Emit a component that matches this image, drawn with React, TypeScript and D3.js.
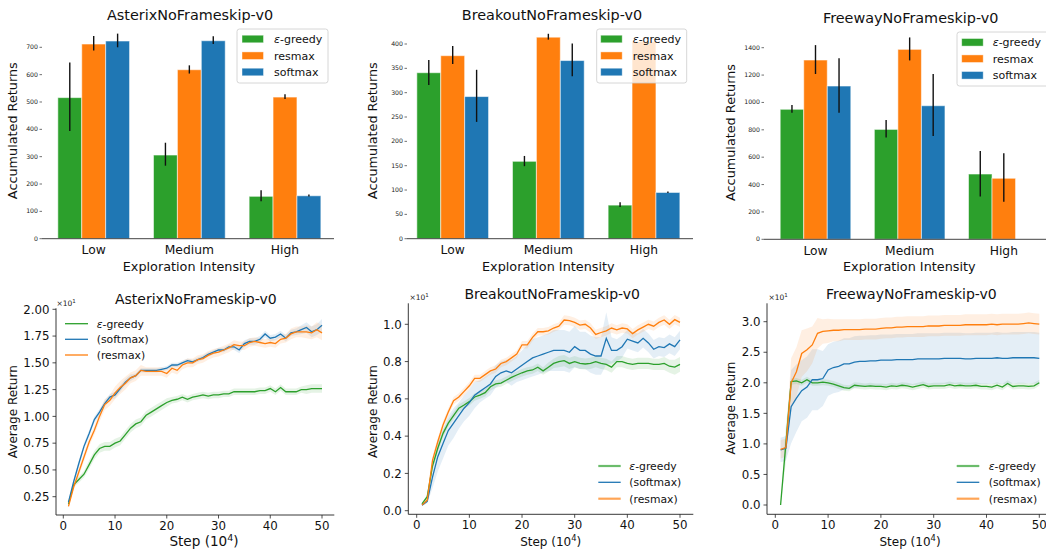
import React from 'react';
import * as d3 from 'd3';

const GREEN = '#2ca02c';
const ORANGE = '#ff7f0e';
const BLUE = '#1f77b4';
const FONT = "'DejaVu Sans', Verdana, sans-serif";

// ---------------- bar chart data ----------------
const categories = ['Low', 'Medium', 'High'];
const barNames = ['ε-greedy', 'resmax', 'softmax'];

const asterixBarTicks = [0, 100, 200, 300, 400, 500, 600, 700];
const asterixEps = [516, 306, 155];
const asterixEpsLo = [394, 267, 137];
const asterixEpsHi = [644, 351, 177];
const asterixRes = [712, 618, 518];
const asterixResLo = [688, 604, 511];
const asterixResHi = [741, 634, 528];
const asterixSoft = [723, 724, 157];
const asterixSoftLo = [700, 712, 154];
const asterixSoftHi = [750, 740, 162];

const breakoutBarTicks = [0, 50, 100, 150, 200, 250, 300, 350, 400];
const breakoutEps = [341, 159, 69];
const breakoutEpsLo = [316, 149, 65];
const breakoutEpsHi = [367, 170, 75];
const breakoutRes = [376, 414, 405];
const breakoutResLo = [359, 409, 405];
const breakoutResHi = [396, 421, 405];
const breakoutSoft = [292, 366, 95];
const breakoutSoftLo = [240, 334, 94];
const breakoutSoftHi = [347, 401, 97];

const freewayBarTicks = [0, 200, 400, 600, 800, 1000, 1200, 1400];
const freewayEps = [950, 803, 477];
const freewayEpsLo = [925, 743, 312];
const freewayEpsHi = [981, 872, 645];
const freewayRes = [1310, 1388, 446];
const freewayResLo = [1208, 1307, 275];
const freewayResHi = [1419, 1475, 628];
const freewaySoft = [1120, 976, 0];
const freewaySoftLo = [925, 755, 0];
const freewaySoftHi = [1322, 1208, 0];

// ---------------- learning curve data ----------------
const steps = Array.from({ length: 50 }, (_, i) => i + 1);
const stepTicks = [0, 10, 20, 30, 40, 50];
const lineNames = ['ε-greedy', '(softmax)', '(resmax)'];

const asterixLineTicks = [0.25, 0.5, 0.75, 1.0, 1.25, 1.5, 1.75, 2.0];
const asterixEpsMean = [0.18,0.36,0.41,0.46,0.55,0.64,0.70,0.72,0.72,0.75,0.77,0.83,0.89,0.93,0.95,1.01,1.04,1.07,1.10,1.13,1.15,1.16,1.18,1.16,1.18,1.19,1.20,1.19,1.20,1.20,1.21,1.21,1.23,1.23,1.23,1.23,1.23,1.24,1.24,1.26,1.23,1.27,1.23,1.23,1.23,1.25,1.25,1.26,1.26,1.26];
const asterixEpsBand = [0.01,0.02,0.03,0.03,0.04,0.04,0.04,0.04,0.04,0.04,0.04,0.04,0.04,0.04,0.04,0.04,0.04,0.04,0.04,0.04,0.03,0.03,0.03,0.03,0.03,0.03,0.03,0.03,0.03,0.03,0.03,0.03,0.03,0.03,0.03,0.03,0.03,0.03,0.03,0.03,0.03,0.03,0.03,0.03,0.03,0.03,0.04,0.04,0.04,0.04];
const asterixSoftMean = [0.20,0.39,0.56,0.72,0.84,0.97,1.04,1.12,1.18,1.20,1.26,1.32,1.36,1.38,1.43,1.43,1.43,1.43,1.44,1.45,1.48,1.48,1.50,1.52,1.51,1.53,1.55,1.58,1.60,1.62,1.62,1.65,1.65,1.62,1.68,1.70,1.70,1.72,1.77,1.73,1.74,1.77,1.73,1.78,1.79,1.81,1.83,1.79,1.81,1.85];
const asterixSoftBand = [0.01,0.02,0.03,0.03,0.03,0.03,0.03,0.03,0.03,0.03,0.03,0.03,0.03,0.02,0.02,0.02,0.02,0.02,0.02,0.02,0.02,0.02,0.02,0.02,0.02,0.02,0.02,0.02,0.02,0.02,0.02,0.02,0.03,0.03,0.03,0.03,0.03,0.03,0.03,0.03,0.03,0.03,0.03,0.03,0.03,0.04,0.05,0.05,0.05,0.06];
const asterixResMean = [0.16,0.34,0.48,0.62,0.76,0.87,1.00,1.11,1.15,1.22,1.27,1.31,1.36,1.38,1.43,1.42,1.42,1.42,1.42,1.40,1.45,1.43,1.48,1.50,1.50,1.53,1.54,1.57,1.59,1.60,1.62,1.64,1.67,1.66,1.66,1.69,1.70,1.69,1.68,1.69,1.68,1.72,1.73,1.77,1.79,1.79,1.79,1.78,1.81,1.78];
const asterixResBand = [0.01,0.03,0.04,0.04,0.04,0.04,0.05,0.05,0.05,0.06,0.06,0.06,0.05,0.05,0.05,0.04,0.04,0.04,0.04,0.04,0.04,0.04,0.04,0.04,0.04,0.04,0.04,0.04,0.04,0.04,0.04,0.04,0.04,0.04,0.04,0.04,0.04,0.04,0.04,0.04,0.04,0.04,0.04,0.05,0.05,0.05,0.06,0.06,0.07,0.07];

const breakoutLineTicks = [0.0, 0.2, 0.4, 0.6, 0.8, 1.0];
const breakoutEpsMean = [0.036,0.075,0.24,0.335,0.415,0.47,0.51,0.55,0.567,0.585,0.61,0.62,0.633,0.665,0.68,0.685,0.70,0.715,0.728,0.74,0.75,0.755,0.77,0.75,0.77,0.79,0.80,0.805,0.79,0.80,0.79,0.787,0.79,0.80,0.79,0.785,0.77,0.80,0.80,0.79,0.785,0.79,0.79,0.79,0.785,0.785,0.79,0.775,0.77,0.785];
const breakoutEpsBand = [0.005,0.01,0.02,0.02,0.02,0.02,0.02,0.02,0.02,0.02,0.02,0.02,0.02,0.02,0.02,0.02,0.02,0.02,0.02,0.02,0.02,0.02,0.02,0.02,0.025,0.025,0.03,0.03,0.03,0.03,0.03,0.03,0.03,0.03,0.03,0.03,0.03,0.03,0.03,0.03,0.03,0.03,0.03,0.03,0.03,0.03,0.035,0.035,0.04,0.04];
const breakoutSoftMean = [0.03,0.05,0.18,0.29,0.36,0.43,0.47,0.51,0.55,0.58,0.62,0.64,0.66,0.68,0.72,0.74,0.75,0.74,0.76,0.78,0.80,0.82,0.83,0.84,0.85,0.86,0.86,0.86,0.85,0.88,0.86,0.86,0.84,0.83,0.83,0.925,0.86,0.86,0.88,0.92,0.91,0.90,0.925,0.90,0.866,0.88,0.875,0.895,0.88,0.916];
const breakoutSoftBand = [0.005,0.01,0.06,0.08,0.08,0.08,0.08,0.07,0.07,0.07,0.07,0.06,0.06,0.06,0.06,0.06,0.06,0.07,0.07,0.08,0.09,0.10,0.10,0.10,0.10,0.11,0.11,0.11,0.11,0.11,0.10,0.10,0.10,0.10,0.10,0.14,0.07,0.06,0.06,0.05,0.05,0.05,0.05,0.05,0.05,0.05,0.05,0.05,0.05,0.05];
const breakoutResMean = [0.03,0.057,0.27,0.37,0.46,0.53,0.59,0.61,0.64,0.67,0.71,0.71,0.73,0.75,0.76,0.79,0.80,0.82,0.84,0.89,0.89,0.93,0.96,0.96,0.965,0.98,0.99,1.023,1.02,1.01,0.996,1.0,0.98,0.946,0.956,0.965,0.98,0.97,0.98,0.975,0.95,0.97,0.985,1.0,0.99,1.01,1.023,1.0,1.025,1.01];
const breakoutResBand = [0.005,0.01,0.02,0.02,0.02,0.02,0.02,0.02,0.02,0.02,0.02,0.02,0.02,0.02,0.02,0.02,0.02,0.02,0.02,0.02,0.02,0.02,0.02,0.02,0.02,0.02,0.02,0.025,0.025,0.025,0.025,0.025,0.025,0.025,0.025,0.025,0.025,0.025,0.025,0.025,0.025,0.025,0.025,0.025,0.025,0.025,0.025,0.025,0.025,0.025];

const freewayLineTicks = [0.0, 0.5, 1.0, 1.5, 2.0, 2.5, 3.0];
const freewayEpsMean = [0.0,1.0,2.02,2.03,2.0,2.05,2.0,2.0,2.01,2.0,1.98,1.95,1.92,1.91,1.96,1.95,1.94,1.95,1.94,1.94,1.93,1.95,1.94,1.96,1.95,1.93,1.95,1.97,1.94,1.95,1.95,1.95,1.97,1.95,1.96,1.95,1.95,1.96,1.94,1.94,1.93,1.96,1.93,1.99,1.94,1.95,1.95,1.94,1.95,2.0];
const freewayEpsBand = [0.0,0.3,0.05,0.05,0.05,0.05,0.05,0.05,0.05,0.05,0.05,0.05,0.05,0.05,0.05,0.05,0.05,0.05,0.05,0.05,0.05,0.05,0.05,0.05,0.05,0.05,0.05,0.05,0.05,0.05,0.05,0.05,0.05,0.05,0.05,0.05,0.05,0.05,0.05,0.05,0.05,0.05,0.05,0.05,0.05,0.05,0.05,0.05,0.05,0.05];
const freewaySoftMean = [0.90,0.93,1.61,1.75,1.87,1.93,2.05,2.05,2.07,2.21,2.25,2.27,2.31,2.31,2.34,2.35,2.35,2.36,2.36,2.37,2.37,2.37,2.38,2.38,2.38,2.38,2.39,2.39,2.39,2.39,2.39,2.40,2.40,2.40,2.40,2.39,2.39,2.40,2.40,2.40,2.40,2.41,2.40,2.40,2.41,2.41,2.41,2.41,2.41,2.40];
const freewaySoftBand = [0.2,0.2,0.6,0.55,0.5,0.5,0.5,0.5,0.45,0.42,0.42,0.42,0.42,0.42,0.42,0.42,0.42,0.42,0.42,0.42,0.42,0.42,0.42,0.42,0.42,0.42,0.42,0.42,0.42,0.42,0.42,0.42,0.42,0.42,0.42,0.42,0.42,0.42,0.42,0.42,0.42,0.42,0.42,0.42,0.42,0.42,0.42,0.42,0.42,0.42];
const freewayResMean = [0.91,0.94,2.0,2.18,2.48,2.54,2.62,2.81,2.84,2.85,2.86,2.86,2.87,2.87,2.87,2.87,2.88,2.88,2.88,2.89,2.90,2.90,2.91,2.91,2.92,2.92,2.92,2.92,2.93,2.93,2.93,2.94,2.94,2.94,2.94,2.95,2.95,2.95,2.95,2.95,2.96,2.95,2.96,2.96,2.96,2.96,2.97,2.98,2.97,2.96];
const freewayResBand = [0.15,0.15,0.4,0.4,0.38,0.35,0.3,0.25,0.2,0.2,0.18,0.18,0.17,0.17,0.17,0.17,0.17,0.17,0.17,0.17,0.17,0.17,0.17,0.17,0.17,0.17,0.17,0.17,0.17,0.17,0.17,0.17,0.17,0.17,0.17,0.17,0.17,0.17,0.17,0.17,0.17,0.17,0.17,0.17,0.17,0.17,0.17,0.17,0.17,0.17];

// ---------------- panel configs (layout) ----------------
const barPanels = [
  {
    title: 'AsterixNoFrameskip-v0', titleX: 190, titleY: 19.5,
    baseY: 238.7, refV: 700, refY: 47.3, spineL: 42, spineR: 334, c0: 93.7, c2: 285,
    ticks: asterixBarTicks,
    series: [
      { v: asterixEps, lo: asterixEpsLo, hi: asterixEpsHi, color: GREEN },
      { v: asterixRes, lo: asterixResLo, hi: asterixResHi, color: ORANGE },
      { v: asterixSoft, lo: asterixSoftLo, hi: asterixSoftHi, color: BLUE },
    ],
    legend: { x: 237, y: 29, w: 91, h: 54, rows: [39, 55.7, 72], patchX: 242, textX: 274 },
    ylabelX: 17, ylabelY: 130.7, xlabelX: 189, xlabelY: 270.7, catY: 254,
  },
  {
    title: 'BreakoutNoFrameskip-v0', titleX: 552, titleY: 19.5,
    baseY: 238.7, refV: 400, refY: 44, spineL: 407, spineR: 693, c0: 452.7, c2: 644,
    ticks: breakoutBarTicks,
    series: [
      { v: breakoutEps, lo: breakoutEpsLo, hi: breakoutEpsHi, color: GREEN },
      { v: breakoutRes, lo: breakoutResLo, hi: breakoutResHi, color: ORANGE },
      { v: breakoutSoft, lo: breakoutSoftLo, hi: breakoutSoftHi, color: BLUE },
    ],
    legend: { x: 596.7, y: 29, w: 90, h: 54, rows: [39, 55.7, 72], patchX: 600.7, textX: 632.7 },
    ylabelX: 377, ylabelY: 130.7, xlabelX: 548.3, xlabelY: 270.7, catY: 254,
  },
  {
    title: 'FreewayNoFrameskip-v0', titleX: 910.7, titleY: 22.7,
    baseY: 239.3, refV: 1400, refY: 47.7, spineL: 764, spineR: 1060, c0: 815.5, c2: 1003.8,
    ticks: freewayBarTicks,
    series: [
      { v: freewayEps, lo: freewayEpsLo, hi: freewayEpsHi, color: GREEN },
      { v: freewayRes, lo: freewayResLo, hi: freewayResHi, color: ORANGE },
      { v: freewaySoft, lo: freewaySoftLo, hi: freewaySoftHi, color: BLUE },
    ],
    legend: { x: 957, y: 32, w: 100, h: 54, rows: [42.3, 58.7, 75.3], patchX: 961.7, textX: 992.7 },
    ylabelX: 735, ylabelY: 132.5, xlabelX: 909.3, xlabelY: 270.7, catY: 255,
  },
];

const linePanels = [
  {
    title: 'AsterixNoFrameskip-v0', titleX: 195.8, titleY: 304.3,
    xr: [63.3, 322], yd: [0.25, 2.0], yr: [496.7, 309.3],
    spineL: 56, spineR: 334.3, spineT: 308.3, spineB: 515,
    ticks: asterixLineTicks, fmt: d3.format('.2f'),
    series: [
      { m: asterixEpsMean, b: asterixEpsBand, color: GREEN },
      { m: asterixSoftMean, b: asterixSoftBand, color: BLUE },
      { m: asterixResMean, b: asterixResBand, color: ORANGE },
    ],
    legend: { x0: 65, x1: 88, textX: 96.7, rows: [323.7, 339.3, 355], soft: false },
    offX: 56.5, offY: 306,
    ylabelX: 17, ylabelY: 411.7, xlabelX: 204, xlabelY: 546, xlabelSize: 13.6,
  },
  {
    title: 'BreakoutNoFrameskip-v0', titleX: 552.2, titleY: 299,
    xr: [416.7, 680], yd: [0, 1], yr: [510.7, 324.3],
    spineL: 408.3, spineR: 693.3, spineT: 303.3, spineB: 514.3,
    ticks: breakoutLineTicks, fmt: d3.format('.1f'),
    series: [
      { m: breakoutEpsMean, b: breakoutEpsBand, color: GREEN },
      { m: breakoutSoftMean, b: breakoutSoftBand, color: BLUE },
      { m: breakoutResMean, b: breakoutResBand, color: ORANGE },
    ],
    legend: { x0: 598.3, x1: 620.7, textX: 629.3, rows: [466, 482.3, 498.7], soft: true },
    offX: 409.5, offY: 300,
    ylabelX: 377, ylabelY: 411.5, xlabelX: 550.7, xlabelY: 545.7, xlabelSize: 12,
  },
  {
    title: 'FreewayNoFrameskip-v0', titleX: 911.3, titleY: 299,
    xr: [775.3, 1039.3], yd: [0, 3], yr: [505, 321.7],
    spineL: 767, spineR: 1060, spineT: 303.3, spineB: 514.3,
    ticks: freewayLineTicks, fmt: d3.format('.1f'),
    series: [
      { m: freewayEpsMean, b: freewayEpsBand, color: GREEN },
      { m: freewaySoftMean, b: freewaySoftBand, color: BLUE },
      { m: freewayResMean, b: freewayResBand, color: ORANGE },
    ],
    legend: { x0: 956.7, x1: 979.3, textX: 988.7, rows: [466, 482.3, 498.7], soft: true },
    offX: 768.5, offY: 300,
    ylabelX: 735, ylabelY: 408, xlabelX: 910, xlabelY: 545.7, xlabelSize: 12,
  },
];

function EpsLabel({ name }: { name: string }) {
  if (name.startsWith('ε')) {
    return (
      <>
        <tspan fontStyle="italic">ε</tspan>
        {name.slice(1)}
      </>
    );
  }
  return <>{name}</>;
}

function BarPanel({ p }: { p: any }) {
  const x = d3.scaleLinear().domain([0, 2]).range([p.c0, p.c2]);
  const y = d3.scaleLinear().domain([0, p.refV]).range([p.baseY, p.refY]);
  const unit = (p.c2 - p.c0) / 2;
  const bw = 0.25 * unit;
  const offs = [-0.25, 0, 0.25];
  return (
    <g fontFamily={FONT}>
      <text x={p.titleX} y={p.titleY} fontSize={14.4} textAnchor="middle" fill="#111">{p.title}</text>
      {p.series.map((s: any, si: number) =>
        s.v.map((v: number, ci: number) =>
          v > 0 ? (
            <rect key={`b${si}-${ci}`} x={x(ci + offs[si]) - bw / 2} y={y(v)} width={bw} height={y(0) - y(v)}
              fill={s.color} stroke="#fff" strokeOpacity={0.55} strokeWidth={1} />
          ) : null
        )
      )}
      {p.series.map((s: any, si: number) =>
        s.v.map((v: number, ci: number) =>
          s.hi[ci] > s.lo[ci] ? (
            <line key={`e${si}-${ci}`} x1={x(ci + offs[si])} x2={x(ci + offs[si])} y1={y(s.lo[ci])} y2={y(s.hi[ci])}
              stroke="#111" strokeWidth={1.4} />
          ) : null
        )
      )}
      <line x1={p.spineL} x2={p.spineR} y1={p.baseY} y2={p.baseY} stroke="#444" strokeWidth={1} />
      {p.ticks.map((t: number) => (
        <g key={t}>
          <line x1={p.spineL - 2.5} x2={p.spineL} y1={y(t)} y2={y(t)} stroke="#333" strokeWidth={0.7} />
          <text x={p.spineL - 4} y={y(t)} dy="0.33em" fontSize={6.2} textAnchor="end" fill="#222">{t}</text>
        </g>
      ))}
      {categories.map((c, ci) => (
        <text key={c} x={x(ci)} y={p.catY} fontSize={12.3} textAnchor="middle" fill="#111">{c}</text>
      ))}
      <text x={p.xlabelX} y={p.xlabelY} fontSize={12.8} textAnchor="middle" fill="#111">Exploration Intensity</text>
      <text transform={`translate(${p.ylabelX},${p.ylabelY}) rotate(-90)`} fontSize={12.8} textAnchor="middle" fill="#111">Accumulated Returns</text>
      <rect x={p.legend.x} y={p.legend.y} width={p.legend.w} height={p.legend.h} rx={2.5}
        fill="#fff" fillOpacity={0.8} stroke="#ccc" strokeWidth={0.8} />
      {barNames.map((n, i) => (
        <g key={n}>
          <rect x={p.legend.patchX} y={p.legend.rows[i] - 3.8} width={21.5} height={7.6}
            fill={p.series[i].color} stroke="#fff" strokeOpacity={0.55} strokeWidth={0.8} />
          <text x={p.legend.textX} y={p.legend.rows[i]} dy="0.36em" fontSize={11} fill="#111">
            <EpsLabel name={n} />
          </text>
        </g>
      ))}
    </g>
  );
}

function LinePanel({ p }: { p: any }) {
  const x = d3.scaleLinear().domain([0, 50]).range(p.xr);
  const y = d3.scaleLinear().domain(p.yd).range(p.yr);
  const line = d3.line<number>().x((_, i) => x(steps[i])).y((d) => y(d));
  const area = (m: number[], b: number[]) =>
    d3.area<number>().x((_, i) => x(steps[i])).y0((d, i) => y(d - b[i])).y1((d, i) => y(d + b[i]))(m) || '';
  const xs = p.xlabelSize;
  return (
    <g fontFamily={FONT}>
      <text x={p.titleX} y={p.titleY} fontSize={14} textAnchor="middle" fill="#111">{p.title}</text>
      {p.series.map((s: any, i: number) => (
        <path key={`a${i}`} d={area(s.m, s.b)} fill={s.color} fillOpacity={0.12} stroke="none" />
      ))}
      {p.series.map((s: any, i: number) => (
        <path key={`l${i}`} d={line(s.m) || ''} fill="none" stroke={s.color} strokeWidth={1.3} />
      ))}
      <line x1={p.spineL} x2={p.spineL} y1={p.spineT} y2={p.spineB} stroke="#222" strokeWidth={0.9} />
      <line x1={p.spineL} x2={p.spineR} y1={p.spineB} y2={p.spineB} stroke="#222" strokeWidth={0.9} />
      {p.ticks.map((t: number) => (
        <g key={t}>
          <line x1={p.spineL - 3.5} x2={p.spineL} y1={y(t)} y2={y(t)} stroke="#222" strokeWidth={0.8} />
          <text x={p.spineL - 6.5} y={y(t)} dy="0.36em" fontSize={11.8} textAnchor="end" fill="#111">{p.fmt(t)}</text>
        </g>
      ))}
      {stepTicks.map((t) => (
        <g key={t}>
          <line x1={x(t)} x2={x(t)} y1={p.spineB} y2={p.spineB + 3.5} stroke="#222" strokeWidth={0.8} />
          <text x={x(t)} y={p.spineB + 14.5} fontSize={11.8} textAnchor="middle" fill="#111">{t}</text>
        </g>
      ))}
      <text x={p.offX} y={p.offY} fontSize={7.5} fill="#222">
        ×10<tspan dy={-3} fontSize={5.5}>1</tspan>
      </text>
      <text x={p.xlabelX} y={p.xlabelY} fontSize={xs} textAnchor="middle" fill="#111">
        Step (10<tspan dy={-xs * 0.38} fontSize={xs * 0.7}>4</tspan><tspan dy={xs * 0.38}>)</tspan>
      </text>
      <text transform={`translate(${p.ylabelX},${p.ylabelY}) rotate(-90)`} fontSize={12} textAnchor="middle" fill="#111">Average Return</text>
      {lineNames.map((n, i) => {
        const s = p.series[i];
        const soft = p.legend.soft && i !== 1;
        return (
          <g key={n}>
            <line x1={p.legend.x0} x2={p.legend.x1} y1={p.legend.rows[i]} y2={p.legend.rows[i]}
              stroke={s.color} strokeWidth={soft ? 2.2 : 1.3} strokeOpacity={soft ? 0.7 : 1} />
            <text x={p.legend.textX} y={p.legend.rows[i]} dy="0.36em" fontSize={10.8} fill="#111">
              <EpsLabel name={n} />
            </text>
          </g>
        );
      })}
    </g>
  );
}

export default function App() {
  return (
    <svg width={1046} height={550} viewBox="0 0 1046 550"
      style={{ position: 'absolute', left: 0, top: 0, background: '#fff' }}>
      <rect x={0} y={0} width={1046} height={550} fill="#fff" />
      {barPanels.map((p) => <BarPanel key={p.title} p={p} />)}
      {linePanels.map((p) => <LinePanel key={p.title + 'l'} p={p} />)}
    </svg>
  );
}
